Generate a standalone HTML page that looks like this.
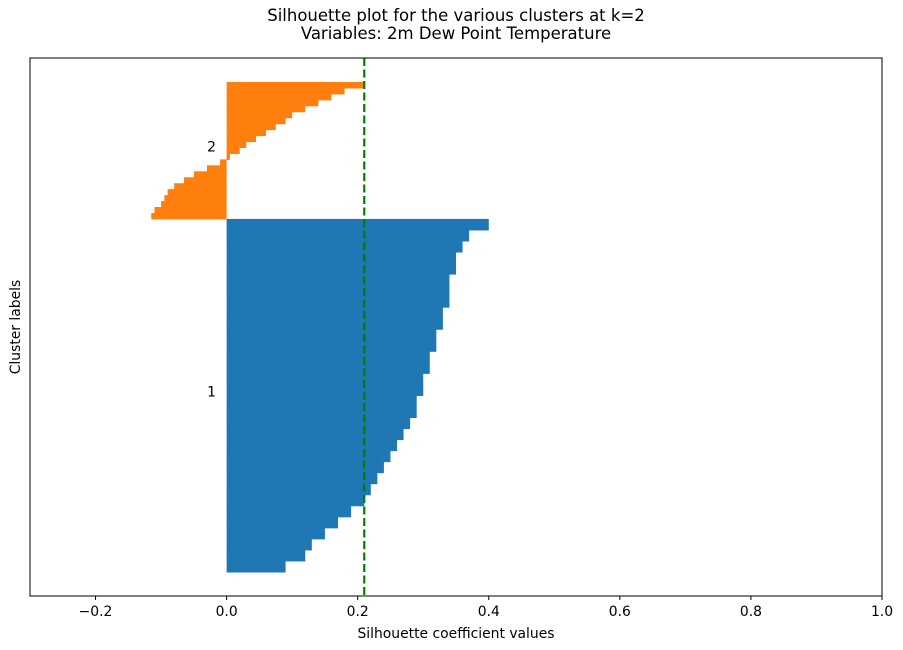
<!DOCTYPE html>
<html><head><meta charset="utf-8">
<style>
body{margin:0;background:#fff;}
svg{display:block;font-family:"DejaVu Sans","Liberation Sans",sans-serif;}
</style></head>
<body>
<svg id="chart" width="903" height="650">
<text x="456" y="21" text-anchor="middle" font-size="16.5">Silhouette plot for the various clusters at k=2</text>
<text x="456" y="39" text-anchor="middle" font-size="16.5">Variables: 2m Dew Point Temperature</text>
<g id="marks"></g>
<rect x="30" y="58" width="852" height="538" fill="none" stroke="#000" stroke-width="1"/>
<g id="xticks"></g>
<text x="456" y="638" text-anchor="middle" font-size="13.9">Silhouette coefficient values</text>
<text x="0" y="0" transform="translate(20,327) rotate(-90)" text-anchor="middle" font-size="13.9">Cluster labels</text>
</svg>
<script>
const clusterLabels = ["1","2"];
const cluster1Values = [0.09,0.12,0.13,0.15,0.17,0.19,0.21,0.22,0.23,0.24,0.25,0.26,0.27,0.28,0.29,0.29,0.30,0.30,0.31,0.31,0.32,0.32,0.33,0.33,0.34,0.34,0.34,0.35,0.35,0.36,0.37,0.40];
const cluster2Values = [-0.115,-0.11,-0.10,-0.095,-0.09,-0.08,-0.065,-0.05,-0.03,-0.01,0.005,0.02,0.03,0.045,0.06,0.075,0.09,0.10,0.12,0.14,0.16,0.18,0.21];
const clusterSizes = [147, 57];
const meanSilhouette = 0.21;
const xTicks = [-0.2,0.0,0.2,0.4,0.6,0.8,1.0];
const xTickLabels = ["\u22120.2","0.0","0.2","0.4","0.6","0.8","1.0"];

const NS="http://www.w3.org/2000/svg";
const L=30,R=882,T=58,B=596, XMIN=-0.3, XMAX=1.0, YMAX=10+clusterSizes[0]+clusterSizes[1]+10;
const xs=v=>L+(v-XMIN)/(XMAX-XMIN)*(R-L);
const ys=v=>B-v/YMAX*(B-T);
const marks=document.getElementById('marks');
const colors=["#1f77b4","#ff7f0e"];
const allVals=[cluster1Values,cluster2Values];
let yLower=10;
allVals.forEach((vals,c)=>{
  const size=clusterSizes[c];
  const step=size/vals.length;
  vals.forEach((v,i)=>{
    const y0=ys(yLower+i*step), y1=ys(yLower+(i+1)*step);
    const x0=xs(Math.min(0,v)), x1=xs(Math.max(0,v));
    const r=document.createElementNS(NS,'rect');
    r.setAttribute('x',x0);r.setAttribute('y',y1);
    r.setAttribute('width',Math.max(0,x1-x0));r.setAttribute('height',y0-y1+0.5);
    r.setAttribute('fill',colors[c]);
    
    
    marks.appendChild(r);
  });
  const t=document.createElementNS(NS,'text');
  t.setAttribute('x',xs(-0.023));t.setAttribute('y',ys(yLower+size/2)+1);
  t.setAttribute('text-anchor','middle');t.setAttribute('font-size','13.9');
  t.textContent=clusterLabels[c];
  
  
  marks.appendChild(t);
  yLower+=size;
});
const ml=document.createElementNS(NS,'line');
ml.setAttribute('x1',xs(meanSilhouette));ml.setAttribute('x2',xs(meanSilhouette));
ml.setAttribute('y1',T);ml.setAttribute('y2',B);
ml.setAttribute('stroke','#008000');ml.setAttribute('stroke-width','2.2');ml.setAttribute('stroke-dasharray','8,3.5');


marks.appendChild(ml);
const xt=document.getElementById('xticks');
xTicks.forEach((v,i)=>{
  const l=document.createElementNS(NS,'line');
  l.setAttribute('x1',xs(v));l.setAttribute('x2',xs(v));l.setAttribute('y1',B);l.setAttribute('y2',B+4);
  l.setAttribute('stroke','#000');
  
  
  xt.appendChild(l);
  const t=document.createElementNS(NS,'text');
  t.setAttribute('x',xs(v));t.setAttribute('y',B+20);t.setAttribute('text-anchor','middle');t.setAttribute('font-size','13.9');
  t.textContent=xTickLabels[i];
  
  
  xt.appendChild(t);
});
</script>
</body></html>
